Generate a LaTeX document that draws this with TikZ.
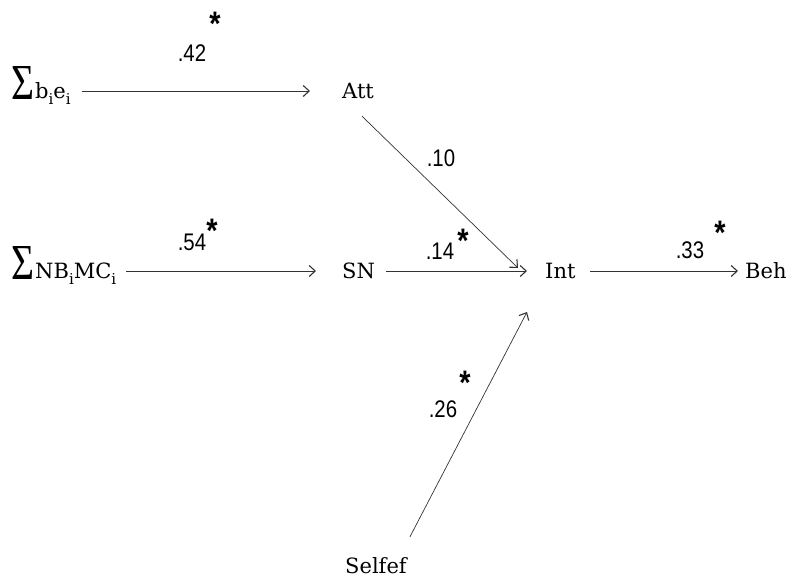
\documentclass[tikz,border=0pt]{standalone}
\usepackage{fontspec}
\setmainfont{DejaVu Serif}
\newfontfamily\sigfont{Liberation Serif}
\newfontfamily\lblfont[FakeStretch=0.85]{Liberation Sans}
\usetikzlibrary{arrows.meta}
\newcommand{\Sg}{\raisebox{-1pt}{\resizebox{23pt}{33pt}{\sigfont Σ}}\hspace{1pt}}
\newcommand{\sbi}{\raisebox{-6pt}{\fontsize{15}{15}\selectfont i}}
\begin{document}
\begin{tikzpicture}[x=1pt,y=-1pt,
  var/.style={inner sep=0pt, text height=14pt, text depth=0pt, font=\fontsize{21}{21}\selectfont},
  coef/.style={inner sep=0pt, font=\lblfont\fontsize{24}{24}\selectfont},
  star/.style={inner sep=0pt, font=\lblfont\bfseries\fontsize{34}{34}\selectfont},
  link/.style={draw=black!80, line width=0.7pt, -{Straight Barb[length=6pt,width=11pt,line width=1.1pt]}}
]
\useasboundingbox (0,0) rectangle (801,587);
% variables
\node[var, anchor=west] (s1) at (11,91) {\Sg b\sbi e\sbi};
\node[var, anchor=west] (att) at (342,91) {Att};
\node[var, anchor=west] (s2) at (11,271) {\Sg NB\sbi MC\sbi};
\node[var, anchor=west] (sn) at (342,271) {SN};
\node[var, anchor=west] (int) at (545,271) {Int};
\node[var, anchor=west] (beh) at (745,271) {Beh};
\node[var, anchor=west] (self) at (345,566) {Selfef};
% connectors
\draw[link, shorten <=11pt, shorten >=32pt] (s1.east) -- (att.west);
\draw[link, shorten <=10pt, shorten >=26pt] (s2.east) -- (sn.west);
\draw[link, shorten <=11pt, shorten >=18pt] (sn.east) -- (int.west);
\draw[link, shorten <=14pt, shorten >=7pt] (int.east) -- (beh.west);
\draw[link] ([shift={(4,18)}]att.south) -- ([shift={(-27,-3)}]int.west);
\draw[link] ([shift={(34,-22)}]self.north) -- ([shift={(-18,41)}]int.west);
% coefficients
\node[coef] (c42) at (192,53) {.42};
\node[star] (t42) at (215,24) {*};
\node[coef] (c10) at (441,158) {.10};
\node[coef] (c54) at (192,242) {.54};
\node[star] (t54) at (212,231) {*};
\node[coef] (c14) at (440,251) {.14};
\node[star] (t14) at (463,241) {*};
\node[coef] (c33) at (690,250) {.33};
\node[star] (t33) at (720,233) {*};
\node[coef] (c26) at (443,409) {.26};
\node[star] (t26) at (465,383) {*};
\end{tikzpicture}
\end{document}
